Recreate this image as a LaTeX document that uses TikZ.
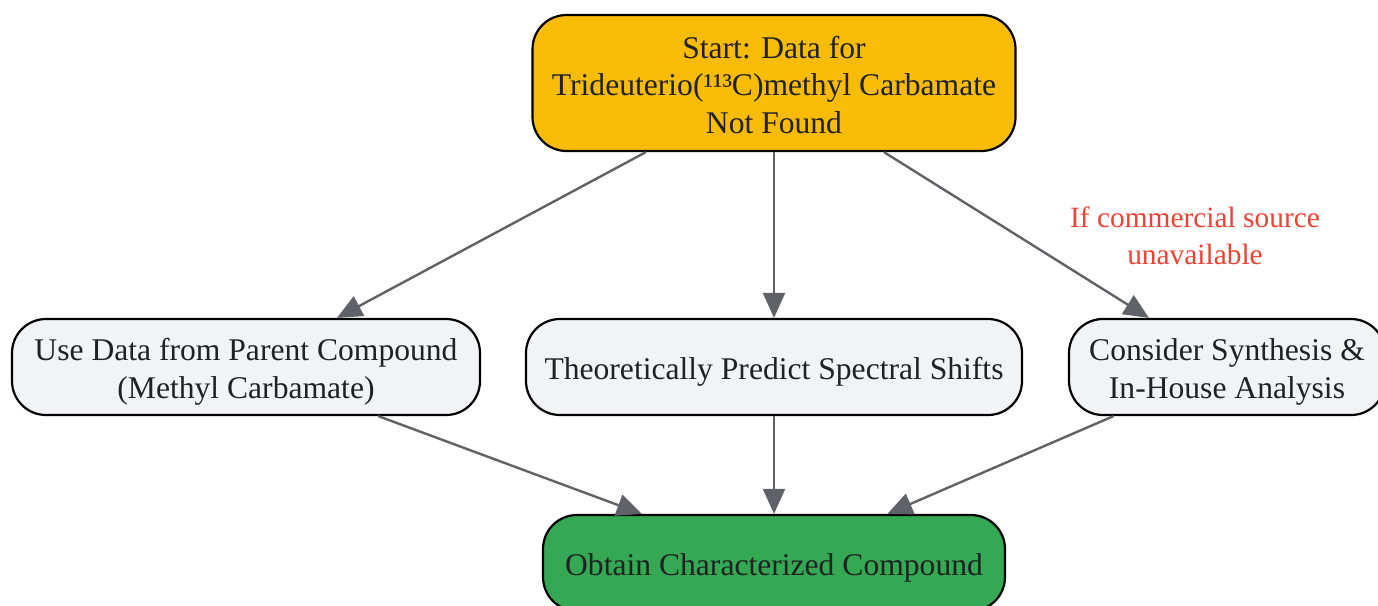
\documentclass[tikz,border=0pt]{standalone}
\usepackage{fontspec}
\setmainfont{Liberation Serif}
\usetikzlibrary{arrows.meta}
\definecolor{cyellow}{HTML}{F9BC06}
\definecolor{cgrey}{HTML}{F1F3F4}
\definecolor{cgreen}{HTML}{34A853}
\definecolor{ctext}{HTML}{202124}
\definecolor{cedge}{HTML}{5F6368}
\definecolor{cred}{HTML}{EA4335}
\tikzset{
  box/.style={draw=black, line width=2.2pt, rounded corners=34pt, inner sep=0pt},
  txt/.style={align=center, text=ctext, font=\fontsize{31.6}{37.5}\selectfont, inner sep=0pt},
  conn/.style={draw=cedge, line width=2.4pt, -{Triangle[length=25pt,width=22pt]}},
}
\begin{document}
\begin{tikzpicture}[x=1pt,y=-1pt]
\useasboundingbox (0,0) rectangle (1378,605);
\node[box, fill=cyellow, minimum width=483pt, minimum height=136pt] (start) at (774,83) {};
\node[box, fill=cgrey, minimum width=468pt, minimum height=96pt] (parent) at (246,367) {};
\node[box, fill=cgrey, minimum width=496pt, minimum height=96pt] (theor) at (774,367) {};
\node[box, fill=cgrey, minimum width=316pt, minimum height=96pt] (cons) at (1227,367) {};
\node[box, fill=cgreen, minimum width=462pt, minimum height=96pt] (obt) at (774,563) {};
\node[txt, yshift=-2pt] (startT) at (start.center)
  {Start: Data for\\Trideuterio(¹¹³C)methyl Carbamate\\Not Found};
\node[txt, yshift=-5pt] (parentT) at (parent.center)
  {Use Data from Parent Compound\\(Methyl Carbamate)};
\node[txt, yshift=-5pt] (theorT) at (theor.center)
  {Theoretically Predict Spectral Shifts};
\node[txt, yshift=-5pt] (consT) at (cons.center)
  {Consider Synthesis \&\\In-House Analysis};
\node[txt, yshift=-5pt] (obtT) at (obt.center)
  {Obtain Characterized Compound};
\node[align=center, text=cred, font=\fontsize{29.4}{37}\selectfont, inner sep=0pt] (lbl) at (1195,235.5)
  {If commercial source\\unavailable};
\draw[conn] (start) -- (parent);
\draw[conn] (start) -- (theor);
\draw[conn] (start) -- (cons);
\draw[conn] (parent) -- (obt);
\draw[conn] (theor) -- (obt);
\draw[conn] (cons) -- (obt);
\end{tikzpicture}
\end{document}
